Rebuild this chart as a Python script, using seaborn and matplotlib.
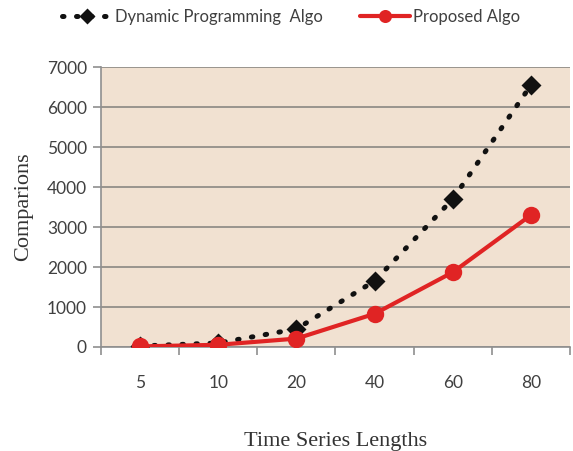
import numpy as np
import pandas as pd
import matplotlib
matplotlib.use('Agg')
import matplotlib.pyplot as plt
import seaborn as sns

# data
lengths = ['5', '10', '20', '40', '60', '80']
dynamic = [25, 100, 450, 1650, 3700, 6550]
proposed = [15, 55, 210, 830, 1870, 3300]

dp_name = 'Dynamic Programming  Algo'
pr_name = 'Proposed Algo'
df = pd.DataFrame({'length': lengths * 2,
                   'value': dynamic + proposed,
                   'algo': [dp_name] * 6 + [pr_name] * 6})

sns.set_style('white')
plt.rcParams['font.family'] = ['Lato', 'DejaVu Sans']

fig = plt.figure(figsize=(5.73, 4.51), dpi=100)
ax = fig.add_axes([0.176, 0.2306, 0.819, 0.6208])
ax.set_facecolor('#f1e1d1')

sns.pointplot(data=df[df.algo == dp_name], x='length', y='value', errorbar=None,
              color='#111111', markers='D', linestyles=':', ax=ax)
sns.pointplot(data=df[df.algo == pr_name], x='length', y='value', errorbar=None,
              color='#e02424', markers='o', linestyles='-', ax=ax)

# style the lines
dl = ax.lines[0]
pl = ax.lines[1]
dl.set_linestyle((0, (0.3, 2.5)))
dl.set_dash_capstyle('round')
dl.set_linewidth(3.6)
dl.set_markersize(8.5)
dl.set_zorder(3)
pl.set_linewidth(3.0)
pl.set_markersize(10.5)
pl.set_zorder(4)
if ax.get_legend() is not None:
    ax.get_legend().remove()

ax.set_ylim(0, 7000)
ax.set_xlim(-0.5, 5.5)
ax.set_yticks(np.arange(0, 7001, 1000))
ax.grid(axis='y', color='#8a8782', linewidth=1.2)
ax.set_axisbelow(True)
for s in ['top', 'right']:
    ax.spines[s].set_visible(False)
for s in ['left', 'bottom']:
    ax.spines[s].set_color('#8f8f8f')
    ax.spines[s].set_linewidth(1.2)

# category boundary ticks on x, labels at centers
ax.set_xticks(np.arange(-0.5, 5.6, 1), minor=True)
ax.tick_params(axis='x', which='minor', length=6, width=1.2, color='#8f8f8f',
               direction='out', bottom=True)
ax.tick_params(axis='x', which='major', length=0, pad=20, labelsize=12.5, labelcolor='#404040')
ax.tick_params(axis='y', length=6, width=1.2, color='#8f8f8f', direction='out',
               pad=4, labelsize=12.5, labelcolor='#404040', left=True)

ax.set_xlabel('Time Series Lengths', family='Liberation Serif', fontsize=16,
              color='#333333', labelpad=30)
ax.set_ylabel('Comparions', family='Liberation Serif', fontsize=16,
              color='#333333', labelpad=10)

fig.legend([dl, pl], [dp_name, pr_name], loc='center',
           bbox_to_anchor=(0.508, 0.962), ncol=2, frameon=False, fontsize=12,
           handlelength=3.0, columnspacing=2.2, handletextpad=0.2,
           markerscale=0.7, labelcolor='#404040')

fig.savefig('out.png', dpi=100)
